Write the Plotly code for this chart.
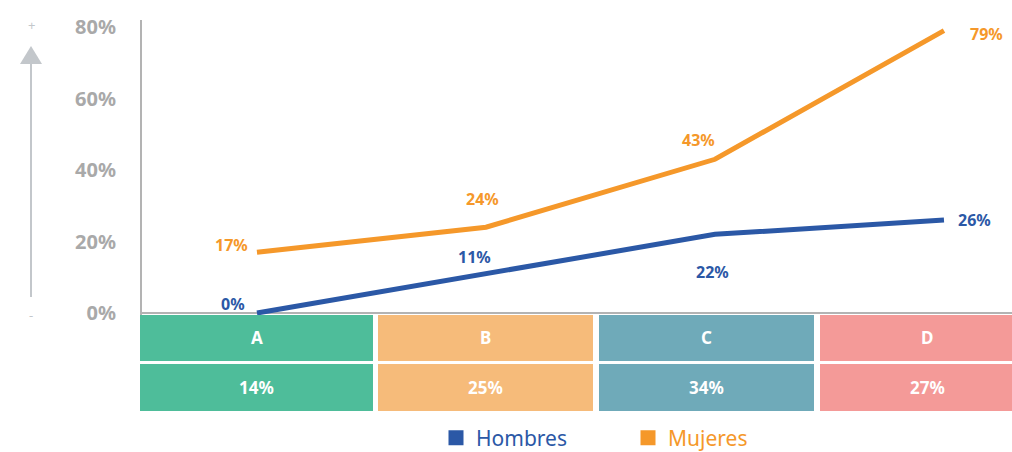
import plotly.graph_objects as go

# ---- data ----
categories = ["A", "B", "C", "D"]
hombres = [0, 11, 22, 26]
mujeres = [17, 24, 43, 79]
share = [14, 25, 34, 27]
y_ticks = [0, 20, 40, 60, 80]

BLUE = "#2b58a6"
ORANGE = "#f5982a"
GREY = "#a9a9a9"
CELL_COLORS = ["#4ebd9a", "#f6bb7a", "#6faab9", "#f49a98"]
FONT = "Noto Sans"

W, H = 1012, 452
L, R, T, B = 142, 0, 20, 134
PW, PH = W - L - R, H - T - B


def px(x):
    return (x - L) / PW


def py(y):
    return (H - B - y) / PH


fig = go.Figure()

fig.add_trace(go.Scatter(x=categories, y=mujeres, mode="lines", name="Mujeres",
                         line=dict(color=ORANGE, width=5), showlegend=False))
fig.add_trace(go.Scatter(x=categories, y=hombres, mode="lines", name="Hombres",
                         line=dict(color=BLUE, width=5), showlegend=False))

# legend entries with square swatches
for name, color in [("Hombres", BLUE), ("Mujeres", ORANGE)]:
    fig.add_trace(go.Scatter(x=[None], y=[None], mode="markers",
                             name=f"<span style='color:{color}'>{name}</span>",
                             marker=dict(symbol="square", size=15, color=color)))

annotations = []

# value labels placed around each point
m_offsets = [(-25, 7), (-3, 28), (-16, 19), (43, -3)]
h_offsets = [(-24, 9), (-11, 17), (-2, -38), (31, 0)]
for vals, offs, color in [(mujeres, m_offsets, ORANGE), (hombres, h_offsets, BLUE)]:
    for c, v, (dx, dy) in zip(categories, vals, offs):
        annotations.append(dict(x=c, y=v, xref="x", yref="y", text=f"{v}%",
                                showarrow=False, xshift=dx, yshift=dy,
                                xanchor="center", yanchor="middle",
                                font=dict(family=FONT, size=16, color=color, weight="bold")))

# table under the chart (last column runs past the right edge)
cell_x = [(140, 373), (378, 593), (599, 814), (820, 1034)]
rows = [(315, 361), (364, 411)]
shapes = []
for (x0, x1), color, cat, s in zip(cell_x, CELL_COLORS, categories, share):
    for (y0, y1), txt in zip(rows, [cat, f"{s}%"]):
        shapes.append(dict(type="rect", xref="paper", yref="paper",
                           x0=px(x0), x1=px(min(x1, W)), y0=py(y0), y1=py(y1),
                           fillcolor=color, line=dict(width=0), layer="above"))
        annotations.append(dict(x=px((x0 + x1) / 2), y=py((y0 + y1) / 2),
                                xref="paper", yref="paper", text=txt, showarrow=False,
                                xanchor="center", yanchor="middle",
                                font=dict(family=FONT, size=17, color="white", weight="bold")))

# vertical "more / less" arrow at the left
ARROW = "#c3c7cb"
shapes.append(dict(type="line", xref="paper", yref="paper",
                   x0=px(31), x1=px(31), y0=py(62), y1=py(297),
                   line=dict(color=ARROW, width=2)))
shapes.append(dict(type="path", xref="paper", yref="paper",
                   path=f"M {px(31)} {py(46)} L {px(20)} {py(64)} L {px(42)} {py(64)} Z",
                   fillcolor=ARROW, line=dict(width=0)))
annotations.append(dict(x=px(31), y=py(25), xref="paper", yref="paper", text="+",
                        showarrow=False, xanchor="center", yanchor="middle",
                        font=dict(family=FONT, size=13, color=ARROW)))
annotations.append(dict(x=px(31), y=py(315), xref="paper", yref="paper", text="-",
                        showarrow=False, xanchor="center", yanchor="middle",
                        font=dict(family=FONT, size=13, color=ARROW)))

px_per_unit = (313 - 27) / 80.0
y_lo = -(H - B - 313) / px_per_unit
y_hi = (313 - T) / px_per_unit

fig.update_layout(
    width=W, height=H,
    margin=dict(l=L, r=R, t=T, b=B, autoexpand=False),
    paper_bgcolor="white", plot_bgcolor="white",
    shapes=shapes, annotations=annotations,
    showlegend=True,
    legend=dict(orientation="h", x=px(436), xanchor="left", y=py(438), yanchor="middle",
                entrywidth=147, entrywidthmode="pixels",
                font=dict(family=FONT, size=21), bgcolor="rgba(0,0,0,0)"),
    xaxis=dict(range=[-0.502, 3.297], showticklabels=False, showgrid=False,
               zeroline=False, showline=False, fixedrange=True),
    yaxis=dict(range=[y_lo, y_hi], tickvals=y_ticks, ticktext=[f"{v}%" for v in y_ticks],
               showgrid=False, showline=True, linecolor="#b3b3b3", linewidth=2,
               zeroline=True, zerolinecolor="#b3b3b3", zerolinewidth=2,
               ticks="", ticklabelstandoff=20,
               tickfont=dict(family=FONT, size=20, color=GREY, weight="bold")),
)

fig.write_html("out.html")
